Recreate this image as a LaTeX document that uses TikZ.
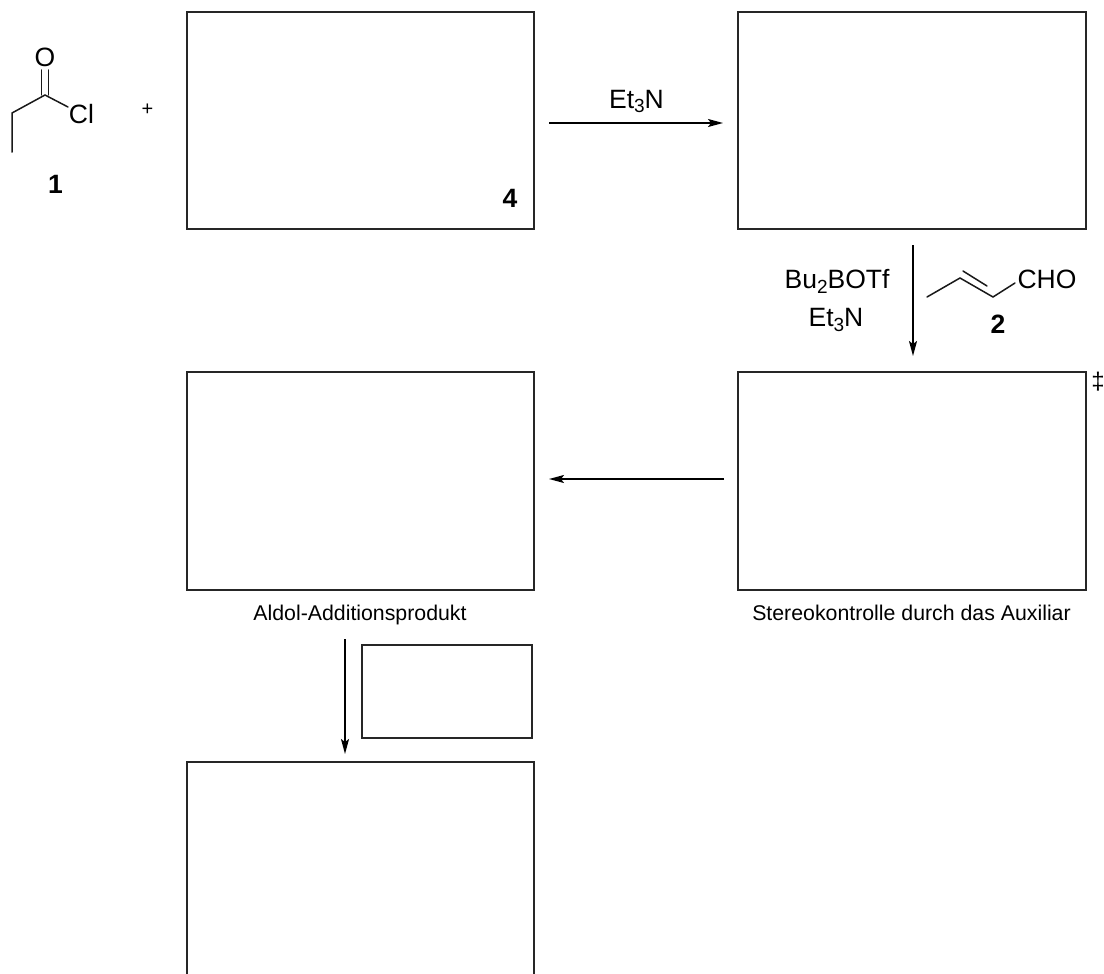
\documentclass[tikz,border=0pt]{standalone}
\usepackage{fontspec}
\setmainfont{Liberation Sans}
\usetikzlibrary{arrows.meta}
\newcommand{\chemsub}[1]{\raisebox{-5pt}{\fontsize{19}{20}\selectfont #1}}
\tikzset{
  px/.style={x=1pt,y=-1pt},
  box/.style={draw=black!85,line width=1.4pt,fill=white},
  bond/.style={draw=black!90,line width=1.5pt,line cap=round},
  rxn/.style={draw=black,line width=1.6pt,-{Stealth[length=15pt,width=8pt,inset=3pt]}},
  big/.style={font=\fontsize{26.5}{30}\selectfont,inner sep=0pt,align=center},
  num/.style={font=\fontsize{26.5}{30}\selectfont\bfseries,inner sep=0pt},
  capt/.style={font=\fontsize{21.3}{25}\selectfont,inner sep=0pt}
}
\begin{document}
\begin{tikzpicture}[px]
\useasboundingbox (0,0) rectangle (1104,974);
% boxes
\draw[box] (187,12) rectangle (534,229);
\draw[box] (738,12) rectangle (1086,229);
\draw[box] (738,372) rectangle (1086,590);
\draw[box] (187,372) rectangle (534,590);
\draw[box] (362,645) rectangle (532,738);
\draw[box,fill=none] (187,974) -- (187,762) -- (534,762) -- (534,974);
% coordinates
\coordinate (a1s) at (549,123);
\coordinate (a1e) at (723,123);
\coordinate (a2s) at (913,245);
\coordinate (a2e) at (913,356);
\coordinate (a3s) at (724,479);
\coordinate (a3e) at (549,479);
\coordinate (a4s) at (345,639);
\coordinate (a4e) at (345,754);
\draw[rxn] (a1s) -- (a1e);
\draw[rxn] (a2s) -- (a2e);
\draw[rxn] (a3s) -- (a3e);
\draw[rxn] (a4s) -- (a4e);
% propionyl chloride
\node[big] (O1) at (45,57) {O};
\node[big] (Cl) at (81.5,114.5) {Cl};
\coordinate (c1) at (12,152);
\coordinate (c2) at (12,113);
\coordinate (c3) at (45,95);
\coordinate (c4) at (68,107);
\draw[bond] (c1) -- (c2) -- (c3) -- (c4);
\coordinate (d1) at (41.7,95);
\coordinate (d2) at (41.7,70);
\coordinate (d3) at (48.7,95);
\coordinate (d4) at (48.7,70);
\draw[bond] (d1) -- (d2) (d3) -- (d4);
\node[num] (n1) at (55.5,184) {1};
\node[font=\fontsize{20}{24}\selectfont,inner sep=0pt] (plus) at (147.5,110) {+};
\node[num] (n4) at (510,198) {4};
% reagents
\node[big,anchor=base] (et1) at (636.5,108) {Et\chemsub{3}N};
\node[big,anchor=base] (bu) at (837,288) {Bu\chemsub{2}BOTf};
\node[big,anchor=base] (et2) at (836,326) {Et\chemsub{3}N};
% crotonaldehyde
\coordinate (e1) at (927,297);
\coordinate (e2) at (960,278);
\coordinate (e3) at (993,297);
\coordinate (e4) at (1015,283);
\draw[bond] (e1) -- (e2) -- (e3) -- (e4);
\coordinate (f1) at (963,271);
\coordinate (f2) at (987,286);
\draw[bond] (f1) -- (f2);
\node[big,anchor=base] (cho) at (1047,288) {CHO};
\node[num] (n2) at (998,324) {2};
\node[font=\fontsize{24}{28}\selectfont,inner sep=0pt] (dag) at (1098,382) {‡};
% captions
\node[capt,anchor=base] (c5) at (360,620) {Aldol-Additionsprodukt};
\node[capt,anchor=base] (c6) at (911.5,620) {Stereokontrolle durch das Auxiliar};
\end{tikzpicture}
\end{document}
